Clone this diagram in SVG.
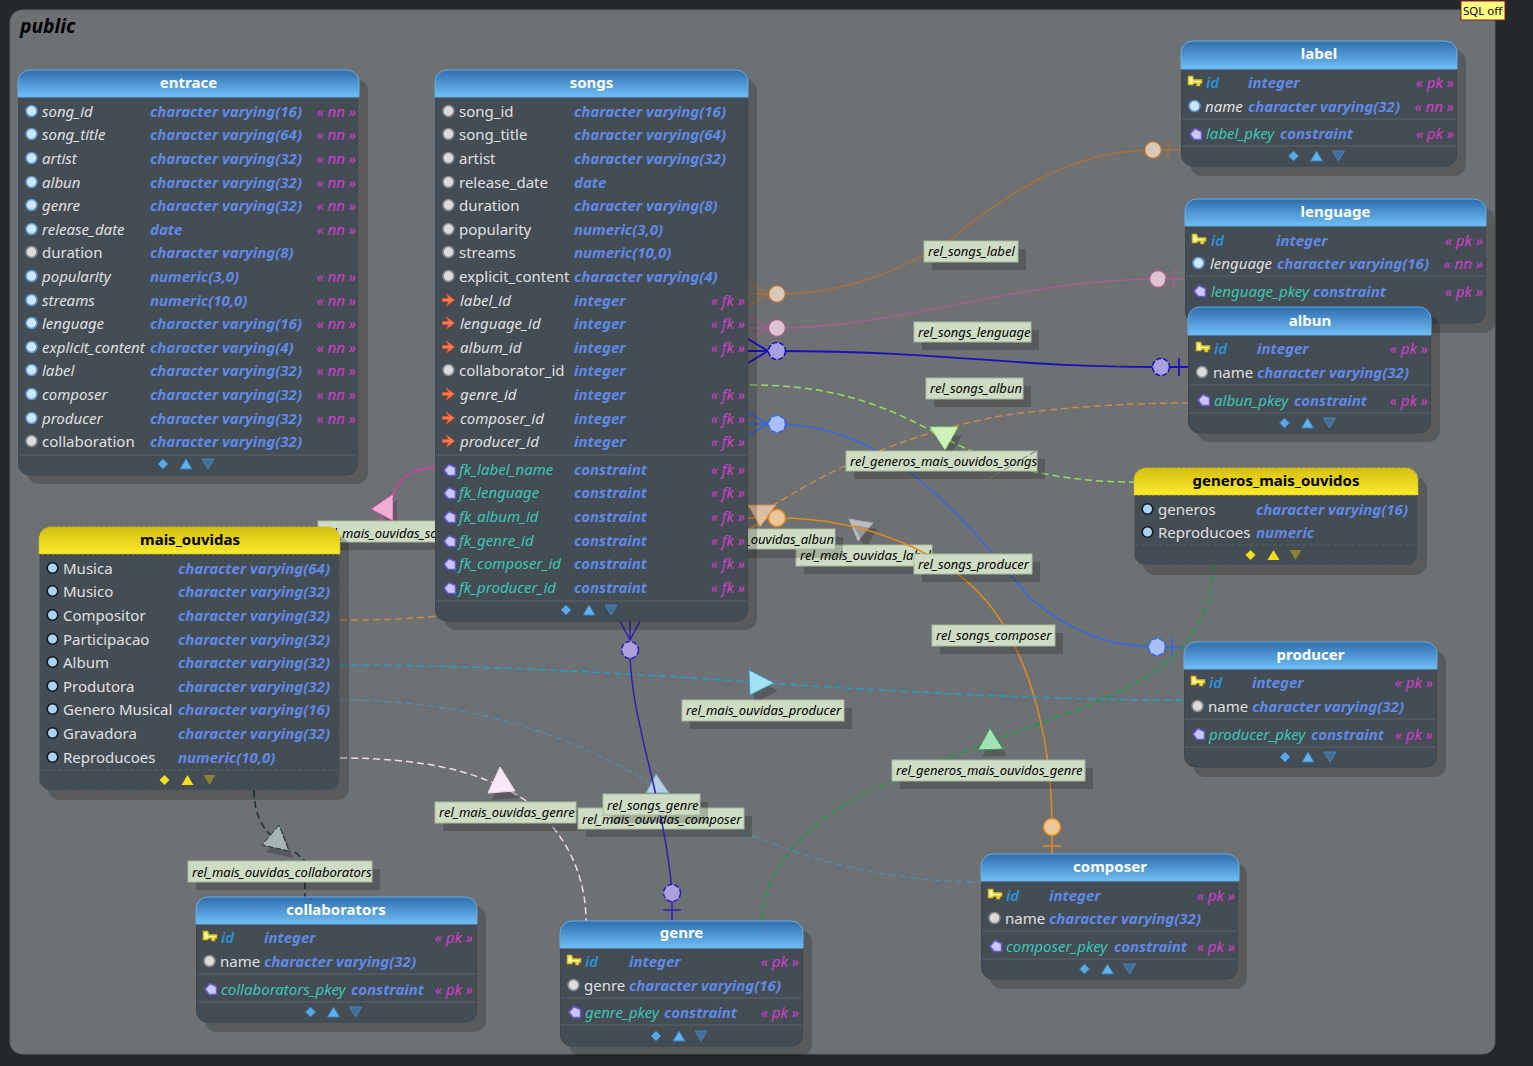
<svg xmlns="http://www.w3.org/2000/svg" width="1533" height="1066" viewBox="0 0 1533 1066">
<style>
text{font-family:"Noto Sans",sans-serif;font-size:15px}
.s{fill:#000;opacity:.2}
.b{fill:#444c54;stroke:#3f464d}
.bv{fill:#444c54;stroke:#565c62;stroke-dasharray:3 2}
.h{fill:url(#gb);stroke:#63aee6;stroke-width:1}
.hv{fill:url(#gy);stroke:#c9b820;stroke-width:1;stroke-dasharray:3 2}
.tt{font-weight:700;fill:#fff;text-anchor:middle}
.ttv{font-weight:700;fill:#000;text-anchor:middle}
.d{stroke:#555b62;stroke-width:1.5}
.dv{stroke:#5a6066;stroke-width:1.2;stroke-dasharray:4 2}
.n{fill:#e0e0e0}
.ni{fill:#e0e0e0;font-style:italic}
.k{fill:#2b93d8;font-style:italic;font-weight:600}
.c{fill:#3cc6b4;font-style:italic}
.t{fill:#5f8ae6;font-style:italic;font-weight:700}
.a{fill:#d23fd0;font-style:italic;text-anchor:end}
.l{fill:#cfdcc4;stroke:#a8b89e;stroke-width:1}
.ls{fill:#000;opacity:.2}
.lt{font-size:13px;font-style:italic;fill:#000}
.r{fill:none;stroke-width:1.5}
.ds{stroke-dasharray:7 4}
</style>
<defs>
<linearGradient id="gb" x1="0" y1="0" x2="0" y2="1"><stop offset="0" stop-color="#2f6cab"/><stop offset="1" stop-color="#6fbff7"/></linearGradient>
<linearGradient id="gy" x1="0" y1="0" x2="0" y2="1"><stop offset="0" stop-color="#d4bf12"/><stop offset="1" stop-color="#fbeb2a"/></linearGradient>
<circle id="dn" r="5.500" fill="#cfe6ff" stroke="#5f95cf" stroke-width="1.600"/>
<circle id="dg" r="5.500" fill="#dcdcdc" stroke="#85898c" stroke-width="1.600"/>
<circle id="dv" r="5.300" fill="#a9d2f7" stroke="#14171b" stroke-width="1.600"/>
<path id="key" d="M-6.500-5.500h4l1 3.500h8v3h-2v2.500h-2.500v-2.500h-3.500l-1 1.500h-4z" fill="#fff7a0" stroke="#d8c020" stroke-width="1.500"/>
<path id="fk" d="M-6-1.500H0l-2-4.500 8 6-8 6 2-4.500h-6z" fill="#ff7b50" stroke="#e0502c" stroke-width="1"/>
<path id="con" d="M-6 0L-1-5.500 5.500-2.500V5.500H-2Z" fill="#c8c8ff" stroke="#6a58c8" stroke-width="1.500"/>
<g id="cb"><path d="M-30.500 0l5-5 5 5-5 5z" fill="#5aa9ea" stroke="#3c7fb8"/><path d="M-8.500 5l6-10 6 10z" fill="#62b2ef" stroke="#3c7fb8"/><path d="M13.500-5h12l-6 10z" fill="#3f6f98" stroke="#4d86b4"/></g>
<g id="cy"><path d="M-30.500 0l5-5 5 5-5 5z" fill="#f3de1e"/><path d="M-8.500 5l6-10 6 10z" fill="#f3de1e"/><path d="M13.500-5h12l-6 10z" fill="#8a8230"/></g>
</defs>
<rect width="1533" height="1066" fill="#24272b"/>
<rect x="10" y="10" width="1485" height="1044" rx="12" fill="#6e7173" stroke="#5f6264"/>
<text x="20" y="33" style="font-size:19.300px;font-style:italic;font-weight:700;fill:#000">public</text>

<g id="connectors">
<g id="rel_songs_label"><path class="r" stroke="#a8703c" d="M748 282l20 12M748 294h20M748 306l20-12M777 294C850 294 905 268 950 240C1010 190 1075 150 1153 150H1181M1168 141v18"/><circle cx="777" cy="294" r="8.500" fill="#dcc8b6" stroke="#a8703c" stroke-width="1.500"/><circle cx="1153" cy="150" r="8.500" fill="#dcc8b6" stroke="#a8703c" stroke-width="1.500"/><rect class="ls" x="932" y="249" width="94" height="21"/><rect class="l" x="924" y="241" width="94" height="21"/><text class="lt" x="928" y="256">rel_songs_label</text></g>
<g id="rel_songs_lenguage"><path class="r" stroke="#a2608a" d="M748 316l20 12M748 328h20M748 340l20-12M777 328C900 328 1020 279 1158 279H1185M1174 270v18"/><circle cx="777" cy="328" r="8.500" fill="#dcc4d0" stroke="#a2608a" stroke-width="1.500"/><circle cx="1158" cy="279" r="8.500" fill="#dcc4d0" stroke="#a2608a" stroke-width="1.500"/><rect class="ls" x="922" y="330" width="117" height="20"/><rect class="l" x="914" y="322" width="117" height="20"/><text class="lt" x="918" y="337">rel_songs_lenguage</text></g>
<g id="rel_songs_albun"><path class="r" stroke="#1a10b8" style="stroke-width:1.800" d="M748 339l20 12M748 351h20M748 363l20-12M777 351C950 351 1000 367 1161 367H1188M1179 358v18"/><circle cx="777" cy="351" r="8.500" fill="#a8a0e0" stroke="#1a10b8" stroke-width="1.500" stroke-dasharray="5 2"/><circle cx="1161" cy="367" r="8.500" fill="#a8a0e0" stroke="#1a10b8" stroke-width="1.500" stroke-dasharray="5 2"/><rect class="ls" x="934" y="386" width="97" height="21"/><rect class="l" x="926" y="378" width="97" height="21"/><text class="lt" x="930" y="393">rel_songs_albun</text></g>
<g id="rel_mais_ouvidas_label"><path class="r" stroke="#686a6c" style="stroke-width:1" stroke-dasharray="6 4" d="M340 587L435 583M873 525C950 490 1100 420 1150 320C1170 280 1185 210 1190 166"/><path d="M849 519L873 523L858 541Z" fill="#bdbdc0" stroke="#a8a8ac"/><path d="M853 525L877 529L866 549Z" class="ls"/><rect class="ls" x="804" y="553" width="128" height="21"/><rect class="l" x="796" y="545" width="136" height="21"/><text class="lt" x="800" y="560">rel_mais_ouvidas_label</text></g>
<g id="rel_songs_producer"><path class="r" stroke="#3266e4" d="M748 412l20 12M748 424h20M748 436l20-12M777 424C880 424 950 500 1030 598C1070 632 1110 647 1157 647H1184M1172 638v18"/><circle cx="777" cy="424" r="8.500" fill="#aabfff" stroke="#3266e4" stroke-width="1.500" stroke-dasharray="5 2"/><circle cx="1157" cy="647" r="8.500" fill="#aabfff" stroke="#3266e4" stroke-width="1.500" stroke-dasharray="5 2"/></g>
<g id="rel_songs_composer"><path class="r" stroke="#e08a20" d="M748 506l20 12M748 518h20M748 530l20-12M777 518C860 518 950 550 995 612C1035 670 1052 750 1052 827V854M1043 846h18"/><circle cx="777" cy="518" r="8.500" fill="#ecc79c" stroke="#e08a20" stroke-width="1.500"/><circle cx="1052" cy="827" r="8.500" fill="#ecc79c" stroke="#e08a20" stroke-width="1.500"/></g>
<g id="rel_mais_ouvidas_albun"><path class="r ds" stroke="#cd8a46" d="M340 620C380 620 410 619 438 616M772 506C830 470 900 435 1000 416C1060 407 1130 403 1188 403"/><path d="M748 505H776L760 527Z" fill="#eccdb0" fill-opacity=".85" stroke="#cd8a46"/><rect class="ls" x="705" y="537" width="138" height="21"/><rect class="l" x="697" y="529" width="138" height="20"/><text class="lt" x="834" y="544" text-anchor="end">rel_mais_ouvidas_albun</text></g>
<g id="rel_generos_mais_ouvidos_songs"><path class="r ds" stroke="#90e060" d="M750 385C840 385 890 408 945 438C1000 468 1060 482 1134 482"/><path d="M934 435L962 435L949 458Z" class="ls"/><path d="M930 427H958L945 450Z" fill="#cdf1ba" stroke="#90e060" stroke-dasharray="4 1"/><rect class="ls" x="854" y="459" width="191" height="20"/><rect class="l" x="846" y="451" width="191" height="20"/><text class="lt" x="850" y="466">rel_generos_mais_ouvidos_songs</text><path d="M1036 451L990 478" fill="none" stroke="#777" stroke-width="1" stroke-dasharray="7 3"/></g>
<g id="rel_songs_label_rest"><rect class="ls" x="922" y="562" width="118" height="20"/><rect class="l" x="914" y="554" width="118" height="20"/><text class="lt" x="918" y="569">rel_songs_producer</text><rect class="ls" x="940" y="633" width="123" height="21"/><rect class="l" x="932" y="625" width="123" height="21"/><text class="lt" x="936" y="640">rel_songs_composer</text></g>
<g id="rel_mais_ouvidas_songs"><path class="r" stroke="#e03ca6" d="M435 468C410 468 401 478 393 494M378 522l4-4M393 521v1"/><path d="M378 513L397 500V527Z" class="ls"/><path d="M371 509L393 494V521Z" fill="#edb0d2" stroke="#e03ca6" stroke-dasharray="4 1"/><rect class="ls" x="326" y="529" width="125" height="21"/><rect class="l" x="318" y="521" width="125" height="21"/><text class="lt" x="322" y="538">rel_mais_ouvidas_songs</text></g>
<g id="rel_mais_ouvidas_producer"><path class="r ds" stroke="#20a0c8" d="M340 665C500 665 650 675 750 682C900 692 1050 700 1184 700"/><path d="M753 678L778 691L754 703Z" class="ls"/><path d="M749 670L774 683L750 695Z" fill="#a2e1f2" stroke="#20a0c8" stroke-dasharray="4 1"/><rect class="ls" x="690" y="708" width="162" height="21"/><rect class="l" x="682" y="700" width="162" height="21"/><text class="lt" x="686" y="715">rel_mais_ouvidas_producer</text></g>
<g id="rel_generos_mais_ouvidos_genre"><path class="r ds" stroke="#1a9c44" d="M1213 565C1213 620 1180 670 1100 700C1040 725 950 755 890 782C810 815 762 870 762 921"/><path d="M982 757L995 735L1007 756Z" class="ls"/><path d="M978 750L990 728L1003 749Z" fill="#a4e2b4" stroke="#1a9c44" stroke-dasharray="4 1"/><rect class="ls" x="900" y="768" width="193" height="21"/><rect class="l" x="892" y="760" width="193" height="21"/><text class="lt" x="896" y="775">rel_generos_mais_ouvidos_genre</text></g>
<g id="rel_mais_ouvidas_genre"><path class="r ds" stroke="#f2d8ee" d="M340 758C420 758 480 770 525 800C570 835 586 880 586 921"/><path d="M492 800L504 774L519 798Z" class="ls"/><path d="M488 793L500 767L515 791Z" fill="#f6e8f6" stroke="#f2d8ee"/><rect class="ls" x="443" y="810" width="141" height="21"/><rect class="l" x="435" y="802" width="141" height="21"/><text class="lt" x="439" y="817">rel_mais_ouvidas_genre</text></g>
<g id="rel_mais_ouvidas_composer"><path class="r ds" style="stroke-width:1.200" stroke="#4d8fb4" d="M340 700C470 700 570 735 650 783C720 825 830 882 981 882"/><path d="M656 774L646 793H669Z" fill="#b8cfe2" stroke="#6ea4c8"/><rect class="ls" x="586" y="816" width="166" height="21"/><rect class="l" x="578" y="808" width="166" height="21"/><text class="lt" x="582" y="824">rel_mais_ouvidas_composer</text></g>
<g id="rel_songs_genre"><path class="r" stroke="#2f1fb4" d="M620 621l10 19M630 621v19M640 621l-10 19M630 650C630 720 665 800 672 893V921M663 910h18"/><circle cx="630" cy="650" r="8.500" fill="#aca0dc" stroke="#2f1fb4" stroke-width="1.500" stroke-dasharray="5 2"/><circle cx="672" cy="893" r="8.500" fill="#aca0dc" stroke="#2f1fb4" stroke-width="1.500" stroke-dasharray="5 2"/><rect class="ls" x="611" y="802" width="97" height="21"/><rect class="l" x="603" y="794" width="97" height="21"/><text class="lt" x="607" y="810">rel_songs_genre</text></g>
<g id="rel_mais_ouvidas_collaborators"><path class="r ds" stroke="#1c2e2e" d="M254 790C254 812 262 830 275 838M295 852L305 861M305 882V897"/><path d="M283 832L266 852L293 858Z" class="ls"/><path d="M279 825L262 845L289 851Z" fill="#a8b4b4" stroke="#1c2e2e" stroke-dasharray="6 2"/><rect class="ls" x="196" y="869" width="184" height="21"/><rect class="l" x="188" y="861" width="184" height="21"/><text class="lt" x="192" y="877">rel_mais_ouvidas_collaborators</text></g>
</g>

<g id="entrace">
<rect class="s" x="27" y="79" width="341" height="405" rx="12"/><rect class="b" x="18.500" y="85" width="339" height="390" rx="11"/>
<path class="h" d="M18 97V82a12 12 0 0 1 12-12H347a12 12 0 0 1 12 12V97Z"/><text class="tt" x="188.500" y="88">entrace</text>
<path class="d" d="M19 455H357"/><use href="#cb" x="188.500" y="464"/>
<use href="#dn" x="31.500" y="111"/><text class="ni" x="42" y="117">song_id</text><text class="t" x="150" y="117">character varying(16)</text><text class="a" x="356" y="117">« nn »</text>
<use href="#dn" x="31.500" y="134"/><text class="ni" x="42" y="140">song_title</text><text class="t" x="150" y="140">character varying(64)</text><text class="a" x="356" y="140">« nn »</text>
<use href="#dn" x="31.500" y="158"/><text class="ni" x="42" y="164">artist</text><text class="t" x="150" y="164">character varying(32)</text><text class="a" x="356" y="164">« nn »</text>
<use href="#dn" x="31.500" y="182"/><text class="ni" x="42" y="188">albun</text><text class="t" x="150" y="188">character varying(32)</text><text class="a" x="356" y="188">« nn »</text>
<use href="#dn" x="31.500" y="205"/><text class="ni" x="42" y="211">genre</text><text class="t" x="150" y="211">character varying(32)</text><text class="a" x="356" y="211">« nn »</text>
<use href="#dn" x="31.500" y="229"/><text class="ni" x="42" y="235">release_date</text><text class="t" x="150" y="235">date</text><text class="a" x="356" y="235">« nn »</text>
<use href="#dg" x="31.500" y="252"/><text class="n" x="42" y="258">duration</text><text class="t" x="150" y="258">character varying(8)</text>
<use href="#dn" x="31.500" y="276"/><text class="ni" x="42" y="282">popularity</text><text class="t" x="150" y="282">numeric(3,0)</text><text class="a" x="356" y="282">« nn »</text>
<use href="#dn" x="31.500" y="300"/><text class="ni" x="42" y="306">streams</text><text class="t" x="150" y="306">numeric(10,0)</text><text class="a" x="356" y="306">« nn »</text>
<use href="#dn" x="31.500" y="323"/><text class="ni" x="42" y="329">lenguage</text><text class="t" x="150" y="329">character varying(16)</text><text class="a" x="356" y="329">« nn »</text>
<use href="#dn" x="31.500" y="347"/><text class="ni" x="42" y="353">explicit_content</text><text class="t" x="150" y="353">character varying(4)</text><text class="a" x="356" y="353">« nn »</text>
<use href="#dn" x="31.500" y="370"/><text class="ni" x="42" y="376">label</text><text class="t" x="150" y="376">character varying(32)</text><text class="a" x="356" y="376">« nn »</text>
<use href="#dn" x="31.500" y="394"/><text class="ni" x="42" y="400">composer</text><text class="t" x="150" y="400">character varying(32)</text><text class="a" x="356" y="400">« nn »</text>
<use href="#dn" x="31.500" y="418"/><text class="ni" x="42" y="424">producer</text><text class="t" x="150" y="424">character varying(32)</text><text class="a" x="356" y="424">« nn »</text>
<use href="#dg" x="31.500" y="441"/><text class="n" x="42" y="447">collaboration</text><text class="t" x="150" y="447">character varying(32)</text>
</g>

<g id="songs">
<rect class="s" x="444" y="79" width="313" height="551" rx="12"/><rect class="b" x="435.500" y="85" width="312" height="536" rx="11"/>
<path class="h" d="M435 97V82a12 12 0 0 1 12-12H736a12 12 0 0 1 12 12V97Z"/><text class="tt" x="591.500" y="88">songs</text>
<path class="d" d="M436 455H747M436 601H747"/><use href="#cb" x="591.500" y="610"/>
<use href="#dg" x="448.500" y="111"/><text class="n" x="459" y="117">song_id</text><text class="t" x="574" y="117">character varying(16)</text>
<use href="#dg" x="448.500" y="134"/><text class="n" x="459" y="140">song_title</text><text class="t" x="574" y="140">character varying(64)</text>
<use href="#dg" x="448.500" y="158"/><text class="n" x="459" y="164">artist</text><text class="t" x="574" y="164">character varying(32)</text>
<use href="#dg" x="448.500" y="182"/><text class="n" x="459" y="188">release_date</text><text class="t" x="574" y="188">date</text>
<use href="#dg" x="448.500" y="205"/><text class="n" x="459" y="211">duration</text><text class="t" x="574" y="211">character varying(8)</text>
<use href="#dg" x="448.500" y="229"/><text class="n" x="459" y="235">popularity</text><text class="t" x="574" y="235">numeric(3,0)</text>
<use href="#dg" x="448.500" y="252"/><text class="n" x="459" y="258">streams</text><text class="t" x="574" y="258">numeric(10,0)</text>
<use href="#dg" x="448.500" y="276"/><text class="n" x="459" y="282">explicit_content</text><text class="t" x="574" y="282">character varying(4)</text>
<use href="#fk" x="448.500" y="300"/><text class="ni" x="460" y="306">label_id</text><text class="t" x="574" y="306">integer</text><text class="a" x="745" y="306">« fk »</text>
<use href="#fk" x="448.500" y="323"/><text class="ni" x="460" y="329">lenguage_id</text><text class="t" x="574" y="329">integer</text><text class="a" x="745" y="329">« fk »</text>
<use href="#fk" x="448.500" y="347"/><text class="ni" x="460" y="353">album_id</text><text class="t" x="574" y="353">integer</text><text class="a" x="745" y="353">« fk »</text>
<use href="#dg" x="448.500" y="370"/><text class="n" x="459" y="376">collaborator_id</text><text class="t" x="574" y="376">integer</text>
<use href="#fk" x="448.500" y="394"/><text class="ni" x="460" y="400">genre_id</text><text class="t" x="574" y="400">integer</text><text class="a" x="745" y="400">« fk »</text>
<use href="#fk" x="448.500" y="418"/><text class="ni" x="460" y="424">composer_id</text><text class="t" x="574" y="424">integer</text><text class="a" x="745" y="424">« fk »</text>
<use href="#fk" x="448.500" y="441"/><text class="ni" x="460" y="447">producer_id</text><text class="t" x="574" y="447">integer</text><text class="a" x="745" y="447">« fk »</text>
<use href="#con" x="450" y="470"/><text class="c" x="459" y="475">fk_label_name</text><text class="t" x="574" y="475">constraint</text><text class="a" x="745" y="475">« fk »</text>
<use href="#con" x="450" y="493"/><text class="c" x="459" y="498">fk_lenguage</text><text class="t" x="574" y="498">constraint</text><text class="a" x="745" y="498">« fk »</text>
<use href="#con" x="450" y="517"/><text class="c" x="459" y="522">fk_album_id</text><text class="t" x="574" y="522">constraint</text><text class="a" x="745" y="522">« fk »</text>
<use href="#con" x="450" y="541"/><text class="c" x="459" y="546">fk_genre_id</text><text class="t" x="574" y="546">constraint</text><text class="a" x="745" y="546">« fk »</text>
<use href="#con" x="450" y="564"/><text class="c" x="459" y="569">fk_composer_id</text><text class="t" x="574" y="569">constraint</text><text class="a" x="745" y="569">« fk »</text>
<use href="#con" x="450" y="588"/><text class="c" x="459" y="593">fk_producer_id</text><text class="t" x="574" y="593">constraint</text><text class="a" x="745" y="593">« fk »</text>
</g>

<g id="label">
<rect class="s" x="1190" y="50" width="276" height="126" rx="12"/><rect class="b" x="1181.500" y="55" width="275" height="111" rx="11"/>
<path class="h" d="M1181 69V53a12 12 0 0 1 12-12H1445a12 12 0 0 1 12 12V69Z"/><text class="tt" x="1319" y="59">label</text>
<path class="d" d="M1182 119H1456M1182 146H1456"/><use href="#cb" x="1319" y="156"/>
<use href="#key" x="1195" y="82"/><text class="k" x="1206" y="88">id</text><text class="t" x="1248" y="88">integer</text><text class="a" x="1454" y="88">« pk »</text>
<use href="#dn" x="1194.500" y="106"/><text class="ni" x="1205" y="112">name</text><text class="t" x="1248" y="112">character varying(32)</text><text class="a" x="1454" y="112">« nn »</text>
<use href="#con" x="1196" y="134"/><text class="c" x="1206" y="139">label_pkey</text><text class="t" x="1280" y="139">constraint</text><text class="a" x="1454" y="139">« pk »</text>
</g>

<g id="lenguage">
<rect class="s" x="1194" y="208" width="301" height="125" rx="12"/><rect class="b" x="1185.500" y="213" width="300" height="110" rx="11"/>
<path class="h" d="M1185 226V211a12 12 0 0 1 12-12H1474a12 12 0 0 1 12 12V226Z"/><text class="tt" x="1335.500" y="217">lenguage</text>
<path class="d" d="M1186 276H1485"/>
<use href="#key" x="1199" y="240"/><text class="k" x="1211" y="246">id</text><text class="t" x="1276" y="246">integer</text><text class="a" x="1483" y="246">« pk »</text>
<use href="#dn" x="1198.500" y="263"/><text class="ni" x="1210" y="269">lenguage</text><text class="t" x="1277" y="269">character varying(16)</text><text class="a" x="1483" y="269">« nn »</text>
<use href="#con" x="1200" y="291"/><text class="c" x="1211" y="297">lenguage_pkey</text><text class="t" x="1313" y="297">constraint</text><text class="a" x="1483" y="297">« pk »</text>
</g>

<g id="albun">
<rect class="s" x="1197" y="316" width="243" height="126" rx="12"/><rect class="b" x="1188.500" y="322" width="242" height="111" rx="11"/>
<path class="h" d="M1188 335V319a12 12 0 0 1 12-12H1419a12 12 0 0 1 12 12V335Z"/><text class="tt" x="1310" y="326">albun</text>
<path class="d" d="M1189 385H1430M1189 413H1430"/><use href="#cb" x="1310" y="423"/>
<use href="#key" x="1203" y="348"/><text class="k" x="1214" y="354">id</text><text class="t" x="1257" y="354">integer</text><text class="a" x="1428" y="354">« pk »</text>
<use href="#dg" x="1202" y="372"/><text class="n" x="1213" y="378">name</text><text class="t" x="1257" y="378">character varying(32)</text>
<use href="#con" x="1204" y="400"/><text class="c" x="1214" y="406">albun_pkey</text><text class="t" x="1294" y="406">constraint</text><text class="a" x="1428" y="406">« pk »</text>
</g>

<g id="generos_mais_ouvidos">
<rect class="s" x="1143" y="477" width="284" height="98" rx="12"/><rect class="bv" x="1134.500" y="483" width="283" height="82" rx="11"/>
<path class="hv" d="M1134 495V480a12 12 0 0 1 12-12H1406a12 12 0 0 1 12 12V495Z"/><text class="ttv" x="1276" y="486">generos_mais_ouvidos</text>
<path class="dv" d="M1135 545H1417"/><use href="#cy" x="1276" y="555"/>
<use href="#dv" x="1147.500" y="509"/><text class="n" x="1158" y="515">generos</text><text class="t" x="1256" y="515">character varying(16)</text>
<use href="#dv" x="1147.500" y="532"/><text class="n" x="1158" y="538">Reproducoes</text><text class="t" x="1256" y="538">numeric</text>
</g>

<g id="mais_ouvidas">
<rect class="s" x="48" y="536" width="301" height="264" rx="12"/><rect class="bv" x="39.500" y="542" width="300" height="248" rx="11"/>
<path class="hv" d="M39 554V539a12 12 0 0 1 12-12H328a12 12 0 0 1 12 12V554Z"/><text class="ttv" x="190" y="545">mais_ouvidas</text>
<path class="dv" d="M40 770H339"/><use href="#cy" x="190" y="780"/>
<use href="#dv" x="52.500" y="568"/><text class="n" x="63" y="574">Musica</text><text class="t" x="178" y="574">character varying(64)</text>
<use href="#dv" x="52.500" y="591"/><text class="n" x="63" y="597">Musico</text><text class="t" x="178" y="597">character varying(32)</text>
<use href="#dv" x="52.500" y="615"/><text class="n" x="63" y="621">Compositor</text><text class="t" x="178" y="621">character varying(32)</text>
<use href="#dv" x="52.500" y="639"/><text class="n" x="63" y="645">Participacao</text><text class="t" x="178" y="645">character varying(32)</text>
<use href="#dv" x="52.500" y="662"/><text class="n" x="63" y="668">Album</text><text class="t" x="178" y="668">character varying(32)</text>
<use href="#dv" x="52.500" y="686"/><text class="n" x="63" y="692">Produtora</text><text class="t" x="178" y="692">character varying(32)</text>
<use href="#dv" x="52.500" y="709"/><text class="n" x="63" y="715">Genero Musical</text><text class="t" x="178" y="715">character varying(16)</text>
<use href="#dv" x="52.500" y="733"/><text class="n" x="63" y="739">Gravadora</text><text class="t" x="178" y="739">character varying(32)</text>
<use href="#dv" x="52.500" y="757"/><text class="n" x="63" y="763">Reproducoes</text><text class="t" x="178" y="763">numeric(10,0)</text>
</g>

<g id="producer">
<rect class="s" x="1193" y="651" width="253" height="126" rx="12"/><rect class="b" x="1184.500" y="656" width="252" height="111" rx="11"/>
<path class="h" d="M1184 669V654a12 12 0 0 1 12-12H1425a12 12 0 0 1 12 12V669Z"/><text class="tt" x="1310.500" y="660">producer</text>
<path class="d" d="M1185 719H1436M1185 747H1436"/><use href="#cb" x="1310.500" y="757"/>
<use href="#key" x="1198" y="682"/><text class="k" x="1209" y="688">id</text><text class="t" x="1252" y="688">integer</text><text class="a" x="1433" y="688">« pk »</text>
<use href="#dg" x="1197.500" y="706"/><text class="n" x="1208" y="712">name</text><text class="t" x="1252" y="712">character varying(32)</text>
<use href="#con" x="1199" y="734"/><text class="c" x="1209" y="740">producer_pkey</text><text class="t" x="1311" y="740">constraint</text><text class="a" x="1433" y="740">« pk »</text>
</g>

<g id="composer">
<rect class="s" x="990" y="863" width="257" height="126" rx="12"/><rect class="b" x="981.500" y="868" width="256" height="111" rx="11"/>
<path class="h" d="M981 881V866a12 12 0 0 1 12-12H1227a12 12 0 0 1 12 12V881Z"/><text class="tt" x="1110" y="872">composer</text>
<path class="d" d="M982 931H1237M982 959H1237"/><use href="#cb" x="1110" y="969"/>
<use href="#key" x="995" y="895"/><text class="k" x="1006" y="901">id</text><text class="t" x="1049" y="901">integer</text><text class="a" x="1235" y="901">« pk »</text>
<use href="#dg" x="994.500" y="918"/><text class="n" x="1005" y="924">name</text><text class="t" x="1049" y="924">character varying(32)</text>
<use href="#con" x="996" y="946"/><text class="c" x="1006" y="952">composer_pkey</text><text class="t" x="1114" y="952">constraint</text><text class="a" x="1235" y="952">« pk »</text>
</g>

<g id="collaborators">
<rect class="s" x="205" y="906" width="281" height="126" rx="12"/><rect class="b" x="196.500" y="911" width="280" height="111" rx="11"/>
<path class="h" d="M196 924V909a12 12 0 0 1 12-12H465a12 12 0 0 1 12 12V924Z"/><text class="tt" x="336" y="915">collaborators</text>
<path class="d" d="M197 974H476M197 1002H476"/><use href="#cb" x="336" y="1012"/>
<use href="#key" x="210" y="937"/><text class="k" x="221" y="943">id</text><text class="t" x="264" y="943">integer</text><text class="a" x="473" y="943">« pk »</text>
<use href="#dg" x="209.500" y="961"/><text class="n" x="220" y="967">name</text><text class="t" x="264" y="967">character varying(32)</text>
<use href="#con" x="211" y="989"/><text class="c" x="221" y="995">collaborators_pkey</text><text class="t" x="351" y="995">constraint</text><text class="a" x="473" y="995">« pk »</text>
</g>

<g id="genre">
<rect class="s" x="569" y="930" width="243" height="126" rx="12"/><rect class="b" x="560.500" y="935" width="242" height="111" rx="11"/>
<path class="h" d="M560 948V933a12 12 0 0 1 12-12H791a12 12 0 0 1 12 12V948Z"/><text class="tt" x="681.500" y="938">genre</text>
<path class="d" d="M561 998H802M561 1025H802"/><use href="#cb" x="681.500" y="1036"/>
<use href="#key" x="574" y="961"/><text class="k" x="585" y="967">id</text><text class="t" x="629" y="967">integer</text><text class="a" x="799" y="967">« pk »</text>
<use href="#dg" x="573.500" y="985"/><text class="n" x="584" y="991">genre</text><text class="t" x="629" y="991">character varying(16)</text>
<use href="#con" x="575" y="1012"/><text class="c" x="585" y="1018">genre_pkey</text><text class="t" x="664" y="1018">constraint</text><text class="a" x="799" y="1018">« pk »</text>
</g>

<g id="sql-off"><rect x="1461" y="1" width="44" height="19" fill="#ffff80" stroke="#8b1a1a"/><text x="1482.500" y="14.500" text-anchor="middle" style="font-size:11.500px;fill:#000">SQL off</text></g>
</svg>
